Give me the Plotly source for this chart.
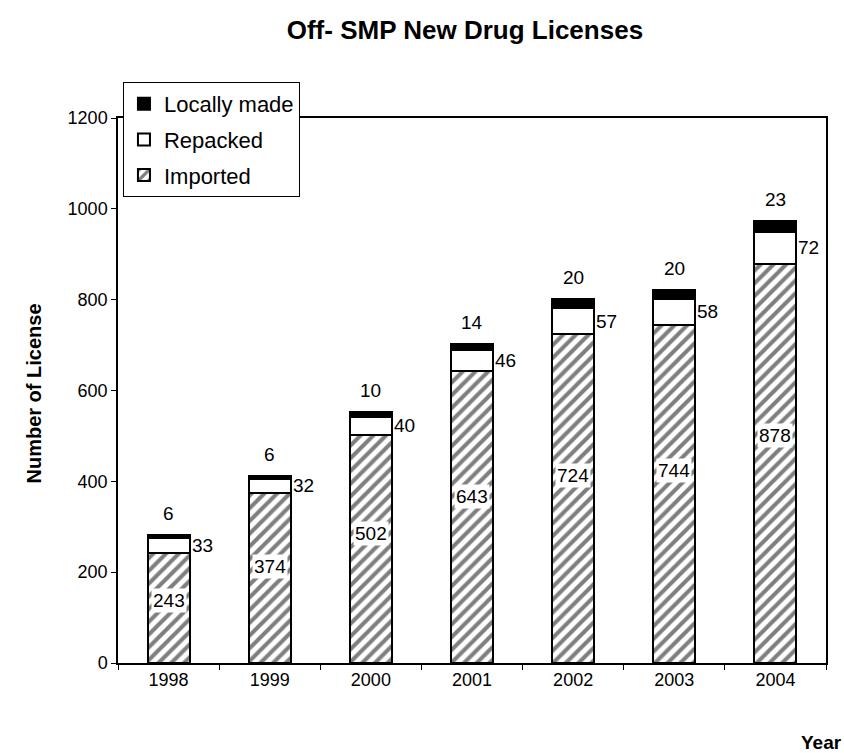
import plotly.graph_objects as go

years = ["1998", "1999", "2000", "2001", "2002", "2003", "2004"]
imported = [243, 374, 502, 643, 724, 744, 878]
repacked = [33, 32, 40, 46, 57, 58, 72]
locally_made = [6, 6, 10, 14, 20, 20, 23]

FONT = "Liberation Sans, Arial, sans-serif"
line = dict(color="black", width=2)

fig = go.Figure()
fig.add_trace(go.Bar(
    x=years, y=imported, name="Imported", legendgroup="imp", legendrank=3,
    marker=dict(color="white", line=line,
                pattern=dict(shape="/", fgcolor="black", bgcolor="white", size=9, solidity=0.45)),
))
fig.add_trace(go.Bar(
    x=years, y=repacked, name="Repacked", legendgroup="rep", legendrank=2,
    marker=dict(color="white", line=line),
))
fig.add_trace(go.Bar(
    x=years, y=locally_made, name="Locally made", legendgroup="loc", legendrank=1,
    marker=dict(color="black", line=line),
))

annotations = []
for i, yr in enumerate(years):
    # category index used as x so numeric-looking labels are not read as indices
    annotations.append(dict(
        x=i, y=imported[i] * 0.57, xref="x", yref="y", text=str(imported[i]),
        showarrow=False, font=dict(family=FONT, size=19, color="black"),
        bgcolor="white", borderpad=1,
    ))
    annotations.append(dict(
        x=i, y=imported[i] + repacked[i] / 2, xref="x", yref="y", text=str(repacked[i]),
        showarrow=False, xanchor="left", xshift=21,
        font=dict(family=FONT, size=19, color="black"),
    ))
    total = imported[i] + repacked[i] + locally_made[i]
    annotations.append(dict(
        x=i, y=total, xref="x", yref="y", text=str(locally_made[i]),
        showarrow=False, yanchor="bottom", yshift=9,
        font=dict(family=FONT, size=19, color="black"),
    ))

annotations.append(dict(
    x=0, y=0.5, xref="paper", yref="paper", xshift=-98, yshift=-3, text="<b>Number of License</b>",
    textangle=-90, showarrow=False, font=dict(family=FONT, size=20, color="black"),
))
annotations.append(dict(
    x=1, y=0, xref="paper", yref="paper", xanchor="right", yanchor="middle",
    xshift=18, yshift=-79, text="<b>Year</b>", showarrow=False,
    font=dict(family=FONT, size=19, color="black"),
))

fig.update_layout(
    width=844, height=753,
    margin=dict(l=118, r=18, t=118, b=90),
    paper_bgcolor="white", plot_bgcolor="white",
    barmode="stack", bargap=0.585,
    font=dict(family=FONT, size=18, color="black"),
    title=dict(text="<b>Off- SMP New Drug Licenses</b>", x=0.49, xref="paper", xanchor="center",
               y=0.96, yanchor="middle", font=dict(family=FONT, size=26, color="black")),
    legend=dict(x=0.007, y=1.066, xanchor="left", yanchor="top", traceorder="grouped",
                bgcolor="white", bordercolor="black", borderwidth=1,
                font=dict(family=FONT, size=22, color="black"),
                itemwidth=30, tracegroupgap=4),
    showlegend=True,
    annotations=annotations,
)
fig.update_xaxes(type="category", range=[-0.5, len(years) - 0.5], showline=True, linecolor="black",
                 linewidth=1.5, mirror=True,
                 ticks="outside", tickson="boundaries", ticklen=5, tickcolor="black",
                 tickfont=dict(family=FONT, size=18), showgrid=False)
fig.update_yaxes(range=[0, 1200], dtick=200, showline=True, linecolor="black", linewidth=1.5,
                 mirror=True, ticks="outside", ticklen=5, tickcolor="black",
                 tickfont=dict(family=FONT, size=18), showgrid=False, zeroline=False)

fig.write_html("out.html")
